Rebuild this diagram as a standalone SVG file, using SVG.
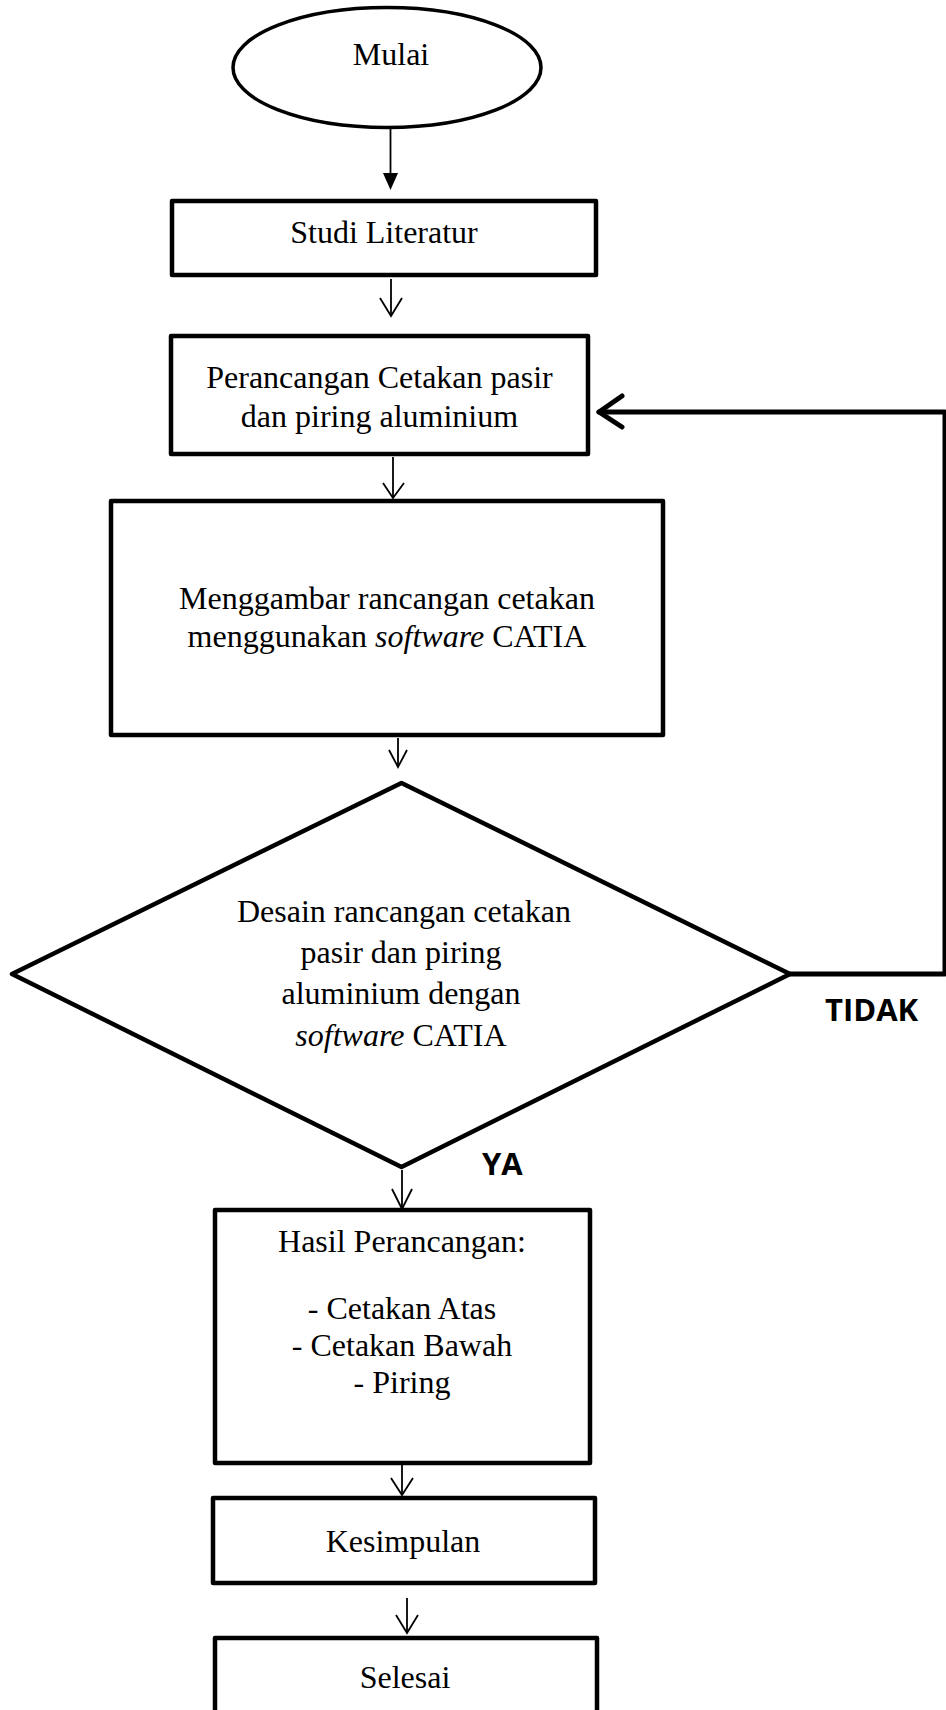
<svg xmlns="http://www.w3.org/2000/svg" width="946" height="1710" viewBox="0 0 946 1710">
<style>
.box{fill:#fff;stroke:#000;stroke-width:4.5;stroke-linejoin:round}
.t{font-family:"Liberation Serif","Times New Roman",serif;font-size:32px;fill:#000;text-anchor:middle}
.lbl{font-family:"Open Sans","Liberation Sans",sans-serif;font-size:31px;font-weight:bold;fill:#000}
.c{fill:none;stroke:#000;stroke-width:1.8}
.ah{fill:none;stroke:#000;stroke-width:1.8;stroke-linejoin:miter}
.fb{fill:none;stroke:#000;stroke-width:5;stroke-linecap:round;stroke-linejoin:round}
</style>
<rect width="946" height="1710" fill="#fff"/>
<g id="connectors">
  <line class="c" x1="390.5" y1="129" x2="390.5" y2="175" stroke-width="2.2"/>
  <polygon points="383,173 398,173 390.5,190" fill="#000"/>
  <line class="c" x1="391" y1="279" x2="391" y2="316"/>
  <polyline class="ah" points="380,298 391,316 402,298"/>
  <line class="c" x1="393" y1="457" x2="393" y2="498"/>
  <polyline class="ah" points="383,483 393,498 404,483"/>
  <line class="c" x1="398" y1="738" x2="398" y2="767"/>
  <polyline class="ah" points="389,750 398,767 407,750"/>
  <line class="c" x1="402" y1="1170" x2="402" y2="1209"/>
  <polyline class="ah" points="392,1189 402,1209 412,1189"/>
  <line class="c" x1="402" y1="1465" x2="402" y2="1495"/>
  <polyline class="ah" points="391,1478 402,1495 413,1478"/>
  <line class="c" x1="407" y1="1598" x2="407" y2="1633"/>
  <polyline class="ah" points="396,1615 407,1633 418,1615"/>
  <polyline class="fb" points="790,974 945,974 945,412 599,412"/>
  <polyline class="fb" points="622,396 599,412 622,427"/>
  <text class="lbl" x="825" y="1021">TIDAK</text>
  <text class="lbl" x="482" y="1175">YA</text>
</g>
<g id="mulai">
  <ellipse cx="387" cy="67.5" rx="154" ry="60" fill="#fff" stroke="#000" stroke-width="3.5"/>
  <text class="t" x="391" y="65">Mulai</text>
</g>
<g id="studi">
  <rect class="box" x="172" y="201" width="424" height="74"/>
  <text class="t" x="384" y="243">Studi Literatur</text>
</g>
<g id="perancangan">
  <rect class="box" x="171" y="336" width="417" height="118"/>
  <text class="t" x="379.5" y="388">Perancangan Cetakan pasir</text>
  <text class="t" x="379.5" y="427">dan piring aluminium</text>
</g>
<g id="menggambar">
  <rect class="box" x="111" y="501" width="552" height="234"/>
  <text class="t" x="387" y="609">Menggambar rancangan cetakan</text>
  <text class="t" x="387" y="647">menggunakan <tspan font-style="italic">software</tspan> CATIA</text>
</g>
<g id="desain">
  <polygon points="401.5,783 790,974 401.5,1167 12,974" fill="#fff" stroke="#000" stroke-width="4.5" stroke-linejoin="round"/>
  <text class="t" x="404" y="922">Desain rancangan cetakan</text>
  <text class="t" x="401" y="963">pasir dan piring</text>
  <text class="t" x="401" y="1004">aluminium dengan</text>
  <text class="t" x="401" y="1046"><tspan font-style="italic">software</tspan> CATIA</text>
</g>
<g id="hasil">
  <rect class="box" x="215" y="1210" width="375" height="253"/>
  <text class="t" x="402" y="1252">Hasil Perancangan:</text>
  <text class="t" x="402" y="1319">- Cetakan Atas</text>
  <text class="t" x="402" y="1356">- Cetakan Bawah</text>
  <text class="t" x="402" y="1393">- Piring</text>
</g>
<g id="kesimpulan">
  <rect class="box" x="213" y="1498" width="382" height="85"/>
  <text class="t" x="403" y="1552">Kesimpulan</text>
</g>
<g id="selesai">
  <rect class="box" x="215" y="1638" width="382" height="90"/>
  <text class="t" x="405" y="1688">Selesai</text>
</g>
</svg>
